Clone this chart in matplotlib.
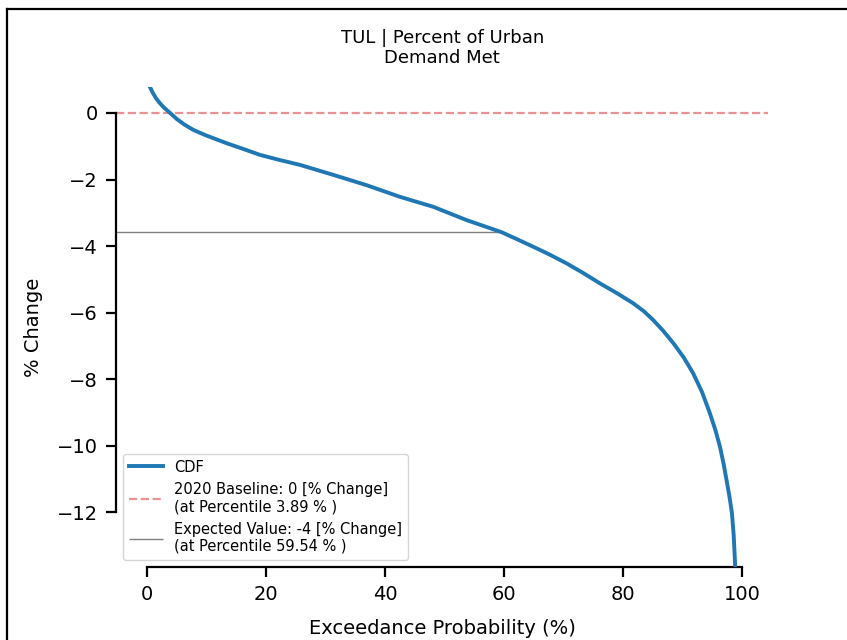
import matplotlib
matplotlib.use("Agg")
import matplotlib.pyplot as plt
from matplotlib.lines import Line2D

exceedance = [0.0, 0.5, 1.0, 1.5, 2.0, 2.8, 3.89, 5.0, 6.3, 7.8, 10.0, 13.4,
              16.0, 19.0, 22.0, 25.7, 31.3, 36.9, 42.5, 48.1, 53.7, 59.54,
              62.0, 64.9, 67.7, 70.5, 73.3, 76.1, 79.0, 81.7, 83.5, 85.1,
              86.8, 88.5, 90.2, 91.8, 93.3, 94.6, 95.5, 96.3, 96.9, 97.4,
              97.9, 98.3, 98.6, 98.8, 99.0]
pct_change = [1.35, 0.78, 0.60, 0.45, 0.33, 0.17, 0.0, -0.18, -0.35, -0.51,
              -0.68, -0.91, -1.07, -1.26, -1.40, -1.56, -1.86, -2.17, -2.52,
              -2.82, -3.22, -3.58, -3.78, -4.02, -4.26, -4.52, -4.81, -5.12,
              -5.42, -5.72, -5.96, -6.23, -6.56, -6.93, -7.35, -7.83, -8.40,
              -9.03, -9.52, -10.04, -10.55, -11.04, -11.55, -12.03, -12.70,
              -13.44, -14.50]

baseline = 0
baseline_pct = 3.89
expected = -3.58
expected_pct = 59.54

title = "TUL | Percent of Urban\nDemand Met"

fig = plt.figure(figsize=(8.47, 6.4), dpi=100)
ax = fig.add_axes([0.137, 0.114, 0.770, 0.750])

ax.plot(exceedance, pct_change, color="tab:blue", lw=2.8, label="CDF", zorder=3)
ax.axhline(baseline, color="tab:red", alpha=0.5, ls="--", lw=1.6,
           label="2020 Baseline: {:.0f} [% Change]\n(at Percentile {} % )".format(baseline, baseline_pct))
ax.hlines(expected, -5.2, expected_pct, color="gray", lw=1.0,
          label="Expected Value: {:.0f} [% Change]\n(at Percentile {} % )".format(expected, expected_pct))

ax.set_xlim(-5.2, 104.4)
ax.set_ylim(-13.65, 0.78)
ax.set_xticks([0, 20, 40, 60, 80, 100])
ax.set_yticks([-12, -10, -8, -6, -4, -2, 0])

# trimmed spines like sns.despine(trim=True)
for side in ["top", "right"]:
    ax.spines[side].set_visible(False)
ax.spines["left"].set_bounds(-12, 0)
ax.spines["bottom"].set_bounds(0, 100)
for side in ["left", "bottom"]:
    ax.spines[side].set_linewidth(1.6)
ax.tick_params(labelsize=14, length=7, width=1.6, pad=6)

ax.set_title(title, fontsize=13, pad=17)
ax.set_xlabel("Exceedance Probability (%)", fontsize=14, labelpad=11)
ax.set_ylabel("% Change", fontsize=14, labelpad=10)
ax.legend(loc="lower left", fontsize=10.5, handlelength=2.3)

# frame along the top and left edge
fig.add_artist(Line2D([7 / 847, 1], [1 - 9 / 640, 1 - 9 / 640], color="black", lw=1.6))
fig.add_artist(Line2D([7 / 847, 7 / 847], [0, 1 - 9 / 640], color="black", lw=1.6))

fig.savefig("out.png", dpi=100)
